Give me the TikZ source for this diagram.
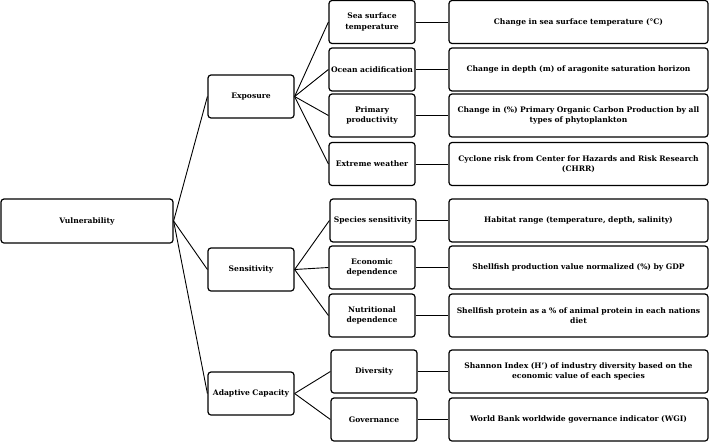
\documentclass[tikz,border=0pt]{standalone}
\usepackage{fontspec}
\setmainfont{DejaVu Serif}
\begin{document}
\begin{tikzpicture}[x=1pt,y=-1pt,
  box/.style={draw=black,line width=1.2pt,rounded corners=3pt,align=center,inner sep=1pt,
    font=\bfseries\fontsize{7.6}{10.5}\selectfont},
  leftbox/.style={box,minimum width=172pt,minimum height=44pt},
  catbox/.style={box,minimum width=86pt,minimum height=43pt,text width=84pt},
  subbox/.style={box,minimum width=86pt,minimum height=43pt,text width=84pt},
  indbox/.style={box,minimum width=259pt,minimum height=43pt,text width=252pt},
  link/.style={line width=0.9pt}]
\useasboundingbox (0,0) rectangle (709,442);
\node[leftbox] (vul) at (87,221) {Vulnerability};
\node[catbox] (exp) at (251,96.5) {Exposure};
\node[catbox] (sen) at (251,269.5) {Sensitivity};
\node[catbox] (ada) at (251,393.5) {Adaptive Capacity};

\node[subbox] (sst) at (372,22) {Sea surface\\temperature};
\node[subbox] (oa) at (372,69.5) {Ocean acidification};
\node[subbox] (pp) at (372,115.5) {Primary\\productivity};
\node[subbox] (ew) at (372,164) {Extreme weather};
\node[subbox] (ss) at (373,220.5) {Species sensitivity};
\node[subbox] (ed) at (372,267.5) {Economic\\dependence};
\node[subbox] (nd) at (372,315.5) {Nutritional\\dependence};
\node[subbox] (div) at (374,371.5) {Diversity};
\node[subbox] (gov) at (374,419.5) {Governance};

\node[indbox] (i1) at (578.5,22) {Change in sea surface temperature (°C)};
\node[indbox] (i2) at (578.5,69.5) {Change in depth (m) of aragonite saturation horizon};
\node[indbox] (i3) at (578.5,115.5) {Change in (\%) Primary Organic Carbon Production by all\\types of phytoplankton};
\node[indbox] (i4) at (578.5,164) {Cyclone risk from Center for Hazards and Risk Research\\(CHRR)};
\node[indbox] (i5) at (578.5,220.5) {Habitat range (temperature, depth, salinity)};
\node[indbox] (i6) at (578.5,267.5) {Shellfish production value normalized (\%) by GDP};
\node[indbox] (i7) at (578.5,315.5) {Shellfish protein as a \% of animal protein in each nations\\diet};
\node[indbox] (i8) at (578.5,371.5) {Shannon Index (H') of industry diversity based on the\\economic value of each species};
\node[indbox] (i9) at (578.5,419.5) {World Bank worldwide governance indicator (WGI)};

\foreach \c in {exp,sen,ada} \draw[link] (vul.east) -- (\c.west);
\foreach \c in {sst,oa,pp,ew} \draw[link] (exp.east) -- (\c.west);
\foreach \c in {ss,ed,nd} \draw[link] (sen.east) -- (\c.west);
\foreach \c in {div,gov} \draw[link] (ada.east) -- (\c.west);
\foreach \a/\b in {sst/i1,oa/i2,pp/i3,ew/i4,ss/i5,ed/i6,nd/i7,div/i8,gov/i9} \draw[link] (\a.east) -- (\b.west);
\end{tikzpicture}
\end{document}
